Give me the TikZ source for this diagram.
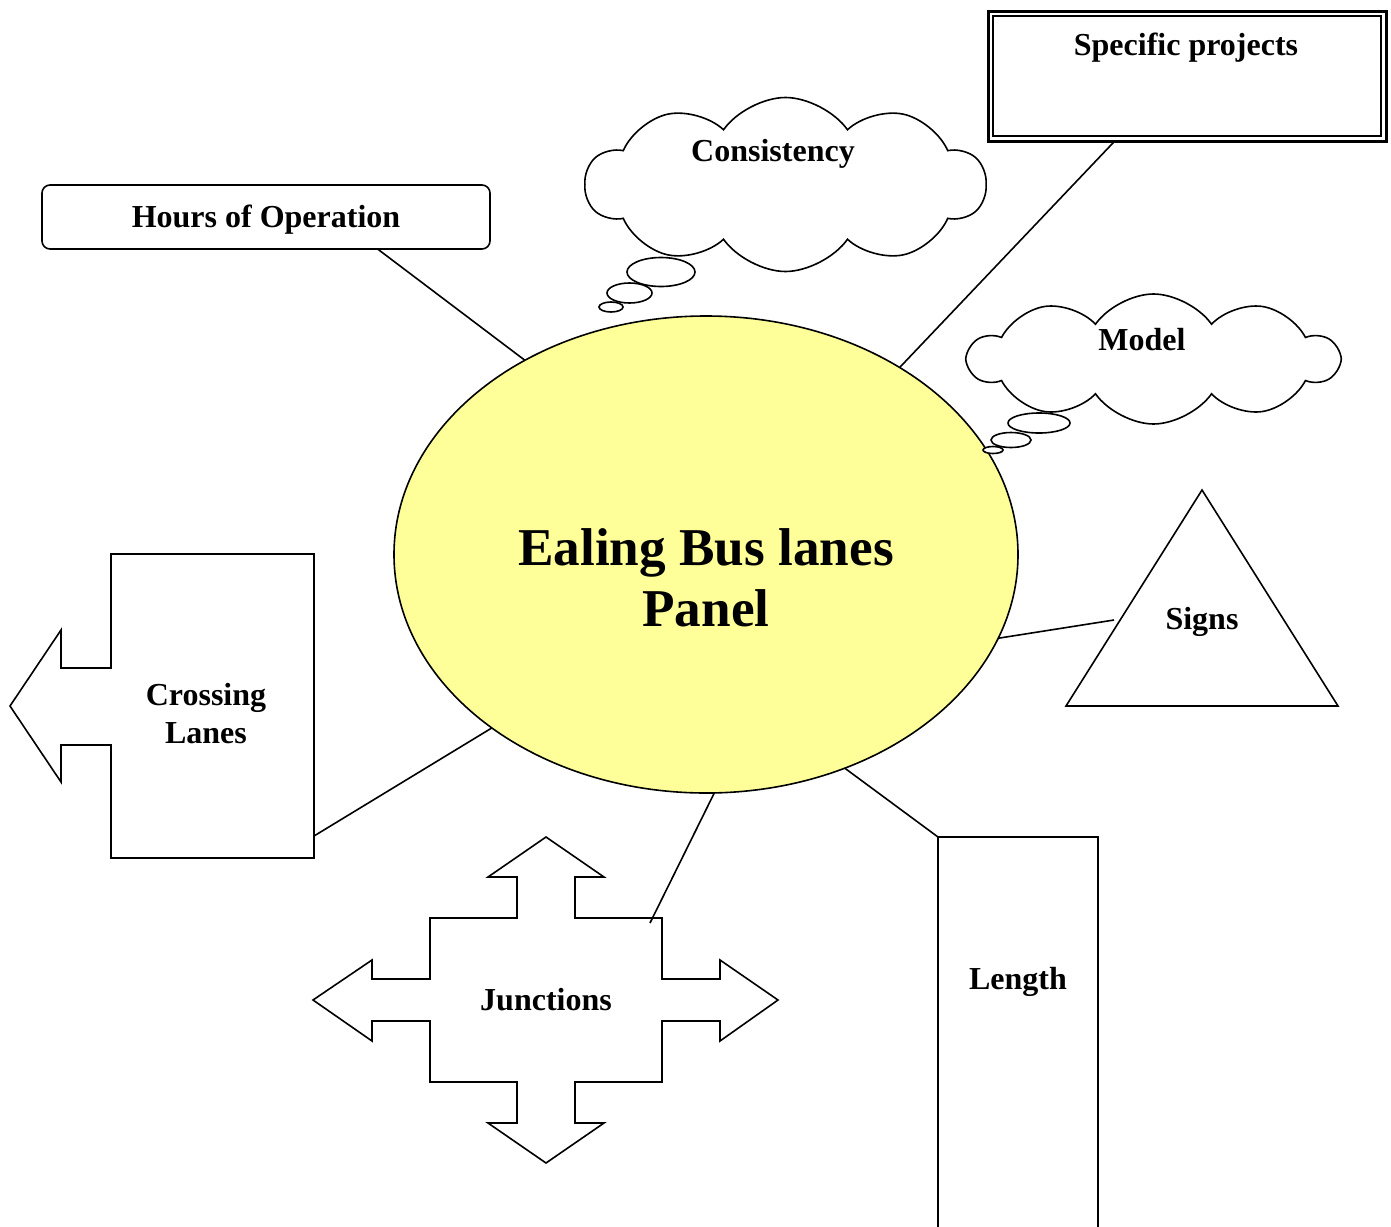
\documentclass[tikz,border=0pt]{standalone}
\usepackage{fontspec}
\setmainfont{Liberation Serif}
\usetikzlibrary{shapes.geometric,shapes.symbols,calc}
\definecolor{panelyellow}{HTML}{FFFF99}

\begin{document}
\begin{tikzpicture}[x=0.5pt,y=-0.5pt,line width=0.8pt,
    lbl/.style={font=\fontsize{16}{19}\selectfont\bfseries,align=center,inner sep=0pt,text height=10.8pt,text depth=0pt},
    multi/.style={text height={},text depth={}},
    hub/.style={draw,ellipse,fill=panelyellow,minimum width=312pt,minimum height=238.5pt,inner sep=0pt,outer sep=0pt},
    thought/.style={draw,fill=white,cloud,cloud puffs=10,cloud puff arc=110,cloud ignores aspect,inner sep=0pt,outer sep=0pt},
    bubble/.style={draw,fill=white},
    link/.style={draw,line width=0.8pt}]
\useasboundingbox (0,0) rectangle (1391,1226);

% central panel
\node[hub] (panel) at (706,554.5) {};
\node[lbl,multi,font=\fontsize{26.6}{30.5}\selectfont\bfseries] (paneltitle) at (706,578) {Ealing Bus lanes\\Panel};

% hours of operation
\node[lbl,draw,rounded corners=4pt,minimum width=224pt,minimum height=32pt,outer sep=0pt] (hours) at (266,217) {Hours of Operation};

% specific projects (thick/thin frame)
\node[draw,line width=1.5pt,minimum width=199pt,minimum height=65pt,outer sep=0pt] (specific) at (1187,76) {};
\draw ([shift={(2.4pt,-2.4pt)}]specific.north west) rectangle ([shift={(-2.4pt,2.4pt)}]specific.south east);
\node[lbl] (specifictext) at (1186,45) {Specific projects};

% thought clouds
\node[thought,minimum width=200pt,minimum height=87pt] (consistency) at (785.5,184.5) {};
\node[lbl] (consistencytext) at (773,151) {Consistency};
\foreach \bx/\by/\rx/\ry in {661/272/34/14.5, 629.5/293/22.5/10, 611/307/12/5}
    \draw[bubble] (\bx,\by) ellipse [x radius=\rx, y radius=\ry];

\node[thought,minimum width=184.5pt,minimum height=65pt] (model) at (1153.5,359) {};
\node[lbl] (modeltext) at (1142,340) {Model};
\foreach \bx/\by/\rx/\ry in {1039/423/31/10, 1011/440/20/7.5, 993/450/10/3.5}
    \draw[bubble] (\bx,\by) ellipse [x radius=\rx, y radius=\ry];

% signs triangle
\draw (1202,490) coordinate (signstop) -- (1338,706) -- (1066,706) coordinate (signsleft) -- cycle;
\node[lbl] (signs) at (1202,619) {Signs};
\coordinate (signsend) at (1114,620);

% crossing lanes arrow
\draw (10,706) -- (61,630) -- (61,668) -- (111,668) -- (111,554) -- (314,554) -- (314,858)
    -- (111,858) -- (111,745) -- (61,745) -- (61,782) -- cycle;
\node[lbl,multi] (crossing) at (206,714) {Crossing\\Lanes};
\coordinate (crossingside) at (314,836);

% junctions, four way arrow
\draw (546,837) -- (604,877) -- (575,877) -- (575,918) -- (662,918) -- (662,979) -- (720,979)
    -- (720,960) -- (778,1000) -- (720,1041) -- (720,1021) -- (662,1021) -- (662,1082)
    -- (575,1082) -- (575,1123) -- (604,1123) -- (546,1163) -- (488,1123) -- (517,1123)
    -- (517,1082) -- (430,1082) -- (430,1021) -- (372,1021) -- (372,1041) -- (313,1000)
    -- (372,960) -- (372,979) -- (430,979) -- (430,918) -- (517,918) -- (517,877) -- (488,877) -- cycle;
\node[lbl] (junctions) at (546,1000) {Junctions};
\coordinate (junctionsend) at (650,923);

% length bar
\draw (938,1240) -- (938,837) coordinate (lengthcorner) -- (1098,837) -- (1098,1240);
\node[lbl] (length) at (1018,979) {Length};

% connectors
\draw[link] (hours.-16.4) -- (panel.133.1);
\draw[link] (specific.-138.1) -- (panel.44.5);
\draw[link] (signsend) -- (panel.-16.3);
\draw[link] (lengthcorner) -- (panel.-57.9);
\draw[link] (junctionsend) -- (panel.-88.1);
\draw[link] (crossingside) -- (panel.-141.1);
\end{tikzpicture}
\end{document}
